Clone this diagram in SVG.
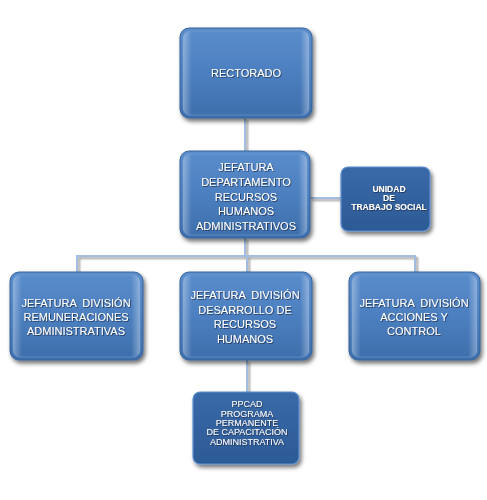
<svg xmlns="http://www.w3.org/2000/svg" width="487" height="500" viewBox="0 0 487 500">
<defs>
  <linearGradient id="gMain" x1="0" y1="0" x2="0" y2="1">
    <stop offset="0" stop-color="#5a8dcc"/>
    <stop offset="0.5" stop-color="#4c7fbf"/>
    <stop offset="1" stop-color="#3d6eab"/>
  </linearGradient>
  <linearGradient id="gDark" x1="0" y1="0" x2="0" y2="1">
    <stop offset="0" stop-color="#3a6aa8"/>
    <stop offset="1" stop-color="#2c5a95"/>
  </linearGradient>
  <linearGradient id="gSide" x1="0" y1="0" x2="1" y2="0">
    <stop offset="0" stop-color="#ffffff" stop-opacity="0.35"/>
    <stop offset="0.07" stop-color="#ffffff" stop-opacity="0"/>
    <stop offset="0.93" stop-color="#ffffff" stop-opacity="0"/>
    <stop offset="1" stop-color="#ffffff" stop-opacity="0.35"/>
  </linearGradient>
  <filter id="shadow" x="-10%" y="-10%" width="125%" height="130%">
    <feGaussianBlur in="SourceAlpha" stdDeviation="2"/>
    <feOffset dx="2" dy="3" result="b"/>
    <feComponentTransfer><feFuncA type="linear" slope="0.55"/></feComponentTransfer>
    <feMerge><feMergeNode/><feMergeNode in="SourceGraphic"/></feMerge>
  </filter>
  <filter id="lineShadow" x="-20%" y="-20%" width="140%" height="140%">
    <feGaussianBlur in="SourceAlpha" stdDeviation="1.2"/>
    <feOffset dx="2" dy="2"/>
    <feComponentTransfer><feFuncA type="linear" slope="0.4"/></feComponentTransfer>
    <feMerge><feMergeNode/><feMergeNode in="SourceGraphic"/></feMerge>
  </filter>
  <filter id="txtShadow" x="-10%" y="-20%" width="120%" height="140%">
    <feDropShadow dx="0.8" dy="0.8" stdDeviation="0.4" flood-color="#1a2f4f" flood-opacity="0.9"/>
  </filter>
</defs>
<style>
  .box { fill: url(#gMain); stroke: #3a649a; stroke-width: 1; filter: url(#shadow); }
  .dark { fill: url(#gDark); stroke: #5f8fcf; stroke-width: 1.2; filter: url(#shadow); }
  .bevel { fill: url(#gSide); stroke: #7aa4d8; stroke-opacity: 0.5; stroke-width: 1; }
  .conn { fill: none; stroke: #a3bde2; stroke-width: 2; }
  .t { font-family: "Liberation Sans", Arial, sans-serif; font-size: 11px; fill: #ffffff; text-anchor: middle; filter: url(#txtShadow); }
  .ts { font-family: "Liberation Sans", Arial, sans-serif; font-size: 9px; fill: #ffffff; text-anchor: middle; filter: url(#txtShadow); }
  .tb { font-weight: bold; font-size: 8.5px; }
</style>
<rect width="487" height="500" fill="#ffffff"/>
<g id="connectors" filter="url(#lineShadow)">
  <path class="conn" d="M245 118 V151"/>
  <path class="conn" d="M310 198 H341"/>
  <path class="conn" d="M245 238 V256"/>
  <path class="conn" d="M77 272 V256 H415 V272"/>
  <path class="conn" d="M247 256 V272"/>
  <path class="conn" d="M247 360 V392"/>
</g>
<g id="rectorado">
  <rect class="box" x="180" y="28" width="132" height="90" rx="9"/>
  <rect class="bevel" x="183" y="31" width="126" height="84" rx="7"/>
  <text class="t" x="246" y="77">RECTORADO</text>
</g>
<g id="jefatura-departamento">
  <rect class="box" x="180" y="151" width="130" height="87" rx="9"/>
  <rect class="bevel" x="183" y="154" width="124" height="81" rx="7"/>
  <text class="t" x="246" y="171">JEFATURA</text>
  <text class="t" x="246" y="186">DEPARTAMENTO</text>
  <text class="t" x="246" y="201">RECURSOS</text>
  <text class="t" x="246" y="215">HUMANOS</text>
  <text class="t" x="246" y="230">ADMINISTRATIVOS</text>
</g>
<g id="unidad-trabajo-social">
  <rect class="dark" x="341" y="167" width="89" height="64" rx="7"/>
  <text class="ts tb" x="389" y="192">UNIDAD</text>
  <text class="ts tb" x="389" y="201">DE</text>
  <text class="ts tb" x="389" y="210">TRABAJO SOCIAL</text>
</g>
<g id="remuneraciones">
  <rect class="box" x="10" y="272" width="133" height="88" rx="9"/>
  <rect class="bevel" x="13" y="275" width="127" height="82" rx="7"/>
  <text class="t" x="76" y="307" xml:space="preserve">JEFATURA  DIVISIÓN</text>
  <text class="t" x="76" y="321">REMUNERACIONES</text>
  <text class="t" x="76" y="335">ADMINISTRATIVAS</text>
</g>
<g id="desarrollo">
  <rect class="box" x="180" y="272" width="132" height="88" rx="9"/>
  <rect class="bevel" x="183" y="275" width="126" height="82" rx="7"/>
  <text class="t" x="245" y="299" xml:space="preserve">JEFATURA  DIVISIÓN</text>
  <text class="t" x="245" y="314">DESARROLLO DE</text>
  <text class="t" x="245" y="328">RECURSOS</text>
  <text class="t" x="245" y="343">HUMANOS</text>
</g>
<g id="acciones-control">
  <rect class="box" x="349" y="272" width="131" height="88" rx="9"/>
  <rect class="bevel" x="352" y="275" width="125" height="82" rx="7"/>
  <text class="t" x="414" y="307" xml:space="preserve">JEFATURA  DIVISIÓN</text>
  <text class="t" x="414" y="321">ACCIONES Y</text>
  <text class="t" x="414" y="335">CONTROL</text>
</g>
<g id="ppcad">
  <rect class="dark" x="193" y="392" width="106" height="72" rx="7"/>
  <text class="ts" x="247" y="407">PPCAD</text>
  <text class="ts" x="247" y="416.5">PROGRAMA</text>
  <text class="ts" x="247" y="426">PERMANENTE</text>
  <text class="ts" x="247" y="435">DE CAPACITACIÓN</text>
  <text class="ts" x="247" y="444.5">ADMINISTRATIVA</text>
</g>
</svg>
